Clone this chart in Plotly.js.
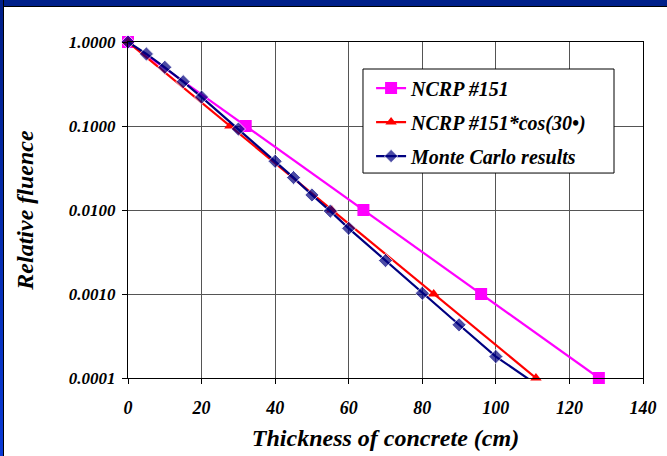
<!DOCTYPE html>
<html>
<head>
<meta charset="utf-8">
<script src="https://cdn.plot.ly/plotly-3.0.1.min.js"></script>
<style>
  html, body { margin: 0; padding: 0; background: #ffffff; }
  #wrap { position: relative; width: 667px; height: 456px; overflow: hidden; }
  #chart { position: absolute; left: 0; top: 0; width: 667px; height: 456px; }
  #topband { position: absolute; left: 0; top: 0; width: 667px; height: 6px; background: #00208a; border-bottom: 1px solid #000; pointer-events: none; }
  #leftband { position: absolute; left: 0; top: 0; width: 3px; height: 456px; background: linear-gradient(#001e88, #0a3ad6); border-right: 1px solid #000; pointer-events: none; }
</style>
</head>
<body>
<div id="wrap">
  <div id="chart"></div>
  <div id="topband"></div>
  <div id="leftband"></div>
</div>
<script>
// ---- data ----
const seriesNames = ["NCRP #151", "NCRP #151*cos(30\u2022)", "Monte Carlo results"];

const ncrpX = [0, 32, 64, 96, 128];
const ncrpY = [1, 0.1, 0.01, 0.001, 0.0001];

const cosX = [0, 27.7, 55.4, 83.1, 110.9];
const cosY = [1, 0.1, 0.01, 0.001, 0.0001];

const mcX = [0, 5, 10, 15, 20, 30, 40, 45, 50, 55, 60, 70, 80, 90, 100, 110];
const mcY = [1, 0.72, 0.50, 0.337, 0.221, 0.092, 0.038, 0.0243, 0.0151, 0.0097, 0.00605, 0.0025, 0.00102, 0.00043, 0.00018, 0.00009];

const xTicks = [0, 20, 40, 60, 80, 100, 120, 140];
const yTicks = [1, 0.1, 0.01, 0.001, 0.0001];
const yTickText = ["1.0000", "0.1000", "0.0100", "0.0010", "0.0001"];

// ---- chart ----
const F = "'Liberation Serif', 'Times New Roman', serif";
const mcSizes = mcY.map(v => (v < 1e-4 ? 0 : 11));

const traces = [
  {
    x: ncrpX, y: ncrpY, name: seriesNames[0], type: "scatter", mode: "lines+markers",
    line: { color: "#ff00ff", width: 2.2 },
    marker: { symbol: "square", size: 12, color: "#ff00ff" },
    cliponaxis: false, legendgroup: "a"
  },
  {
    x: cosX, y: cosY, name: seriesNames[1], type: "scatter", mode: "lines+markers",
    line: { color: "#ff0000", width: 2.2 },
    marker: { symbol: "triangle-up", size: 10, color: "#ff0000" },
    cliponaxis: false, legendgroup: "b"
  },
  {
    x: mcX, y: mcY, name: seriesNames[2], type: "scatter", mode: "lines+markers",
    line: { color: "#000080", width: 2.2 },
    marker: { symbol: "diamond", size: mcSizes, color: "#000080" },
    cliponaxis: false, legendgroup: "c"
  }
];

const layout = {
  width: 667, height: 456,
  margin: { l: 128, r: 24, t: 42, b: 78, pad: 0 },
  paper_bgcolor: "#ffffff",
  plot_bgcolor: "#ffffff",
  font: { family: F, color: "#000000" },
  showlegend: true,
  legend: {
    x: 0.472, y: 0.921, xanchor: "left", yanchor: "top",
    bgcolor: "rgba(0,0,0,0)", borderwidth: 0,
    font: { family: F, size: 20, weight: "bold", style: "italic", color: "#000" },
    tracegroupgap: 5, traceorder: "grouped", itemwidth: 30
  },
  xaxis: {
    range: [0, 140], tickvals: xTicks, ticktext: xTicks.map(String),
    showgrid: true, gridcolor: "#555555", gridwidth: 1,
    showline: true, linecolor: "#000000", linewidth: 1, mirror: true,
    ticks: "outside", ticklen: 5, tickcolor: "#000", ticklabelstandoff: 8,
    zeroline: false,
    tickfont: { family: F, size: 18, weight: "bold", style: "italic", color: "#000" },
    title: { text: "Thickness of concrete (cm)", standoff: 12,
             font: { family: F, size: 24, weight: "bold", style: "italic", color: "#000" } }
  },
  yaxis: {
    type: "log", range: [-4, 0], tickvals: yTicks, ticktext: yTickText,
    showgrid: true, gridcolor: "#555555", gridwidth: 1,
    showline: true, linecolor: "#000000", linewidth: 1, mirror: true,
    ticks: "outside", ticklen: 5, tickcolor: "#000", ticklabelstandoff: 3,
    zeroline: false,
    tickfont: { family: F, size: 17, weight: "bold", style: "italic", color: "#000" },
    title: { text: "Relative fluence", standoff: 28,
             font: { family: F, size: 24, weight: "bold", style: "italic", color: "#000" } }
  },
  shapes: [
    { type: "rect", xref: "paper", yref: "paper", x0: 0.4563, x1: 0.9437, y0: 0.610, y1: 0.9196,
      fillcolor: "#ffffff", line: { color: "#000000", width: 1 }, layer: "above" }
  ]
};

Plotly.newPlot("chart", traces, layout, { displayModeBar: false, staticPlot: true });
</script>
</body>
</html>
